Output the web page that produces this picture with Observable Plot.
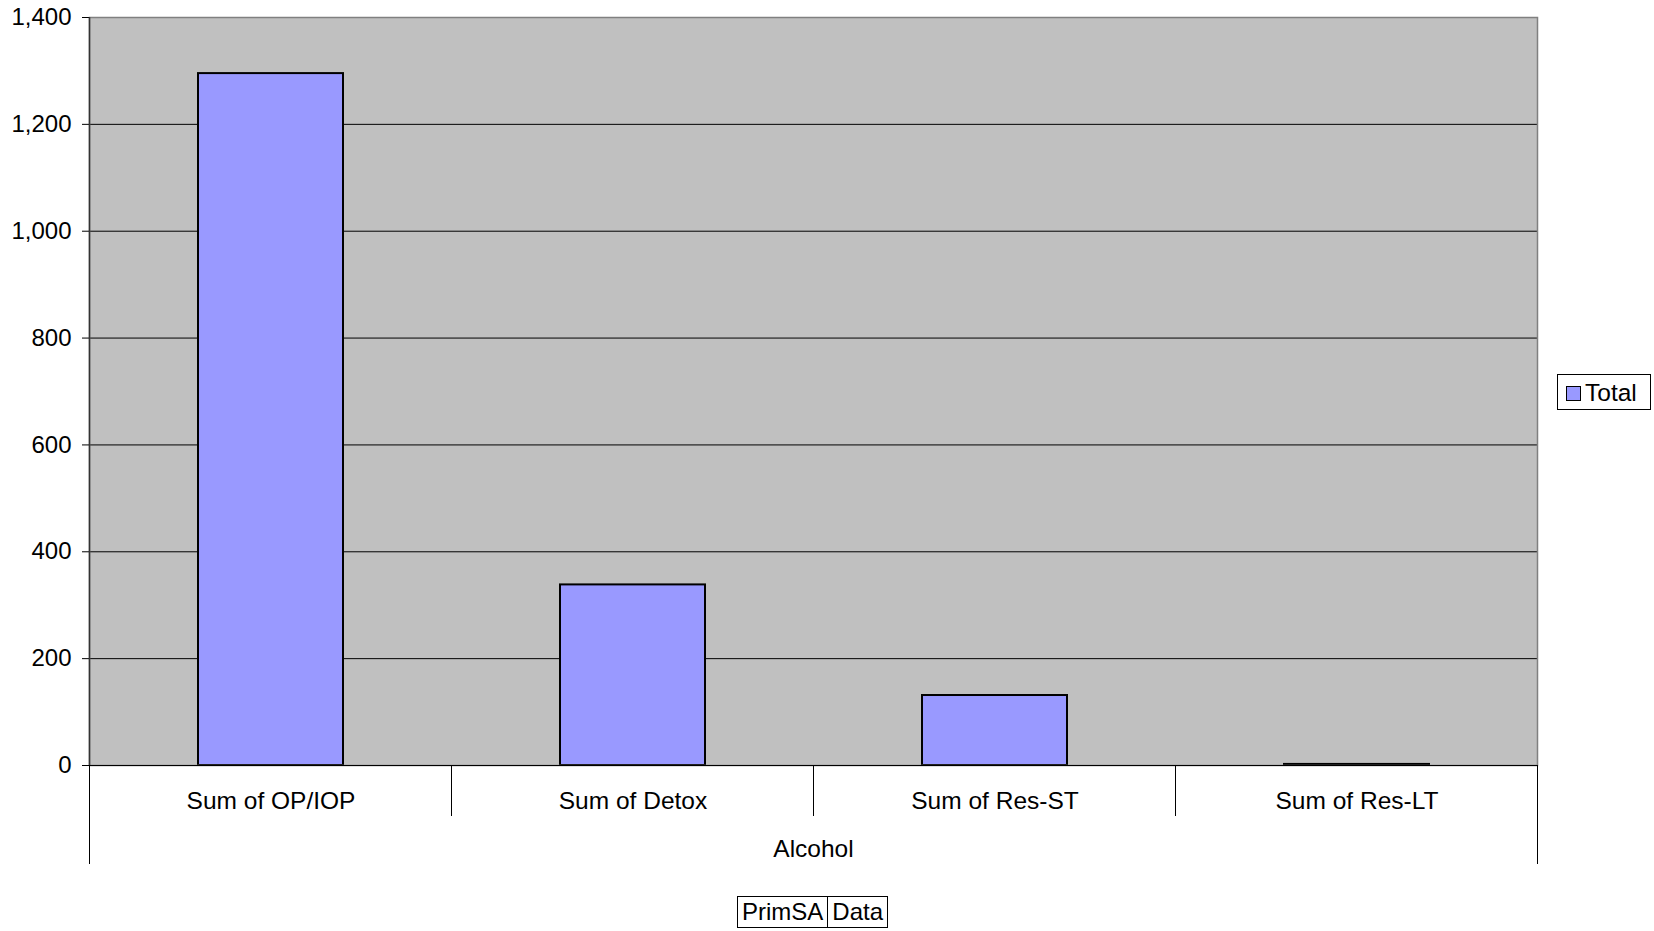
<!DOCTYPE html>
<html>
<head>
<meta charset="utf-8">
<script src="https://cdn.jsdelivr.net/npm/d3@7"></script>
<script src="https://cdn.jsdelivr.net/npm/@observablehq/plot@0.6"></script>
<style>
  html, body { margin: 0; padding: 0; background: #fff; }
  body { width: 1654px; height: 931px; position: relative; overflow: hidden;
         font-family: "Liberation Sans", Arial, sans-serif; }
  #chart { position: absolute; left: 0; top: 0; }
  .legend { position: absolute; left: 1557px; top: 374px; width: 94px; height: 36px;
            border: 1px solid #000; box-sizing: border-box; background: #fff;
            font-size: 24.5px; display: flex; align-items: center; padding-top: 2px; }
  .legend .sw { width: 15px; height: 15px; border: 1.5px solid #000; background: #9999ff;
                margin-left: 8px; margin-right: 4px; box-sizing: border-box; }
  .fieldbox { position: absolute; left: 737px; top: 896px; height: 32px; display: flex;
              font-size: 24px; }
  .fieldbox div { border: 1px solid #000; box-sizing: border-box; height: 32px;
                  line-height: 30px; padding: 0 4px; background: #fff; }
  .fieldbox div + div { border-left: none; }
</style>
</head>
<body>
<div id="chart"></div>
<div class="legend"><div class="sw"></div><span id="legendLabel"></span></div>
<div class="fieldbox"><div id="f1"></div><div id="f2"></div></div>
<script>
// ---- data ----
const categories = ["Sum of OP/IOP", "Sum of Detox", "Sum of Res-ST", "Sum of Res-LT"];
const totals = [1295, 338, 131, 2];
const yTicks = [0, 200, 400, 600, 800, 1000, 1200, 1400];
const groupLabel = "Alcohol";
const seriesName = "Total";
const fieldButtons = ["PrimSA", "Data"];

const data = categories.map((c, i) => ({cat: c, value: totals[i]}));

document.getElementById("legendLabel").textContent = seriesName;
document.getElementById("f1").textContent = fieldButtons[0];
document.getElementById("f2").textContent = fieldButtons[1];

const W = 1654, H = 931;
const mL = 89, mT = 17, mR = 117, mB = 166;

const plot = Plot.plot({
  width: W,
  height: H,
  marginLeft: mL,
  marginTop: mT,
  marginRight: mR,
  marginBottom: mB,
  style: {fontFamily: "'Liberation Sans', Arial, sans-serif", fontSize: "24px", background: "white", color: "black"},
  x: {domain: categories, paddingInner: 0.6, paddingOuter: 0.3, label: null},
  y: {domain: [0, 1400], label: null},
  marks: [
    Plot.frame({fill: "#c0c0c0", stroke: "none"}),
    Plot.gridY(yTicks.filter(d => d > 0 && d < 1400), {stroke: "black", strokeOpacity: 1, strokeWidth: 1}),
    Plot.barY(data, {x: "cat", y: "value", fill: "#9999ff", stroke: "black", strokeWidth: 2}),
    Plot.frame({stroke: "#808080", strokeWidth: 1.5}),
    Plot.ruleY([0], {stroke: "black", strokeWidth: 1}),
    Plot.axisY({ticks: yTicks, tickFormat: d3.format(","), tickSize: 7, tickPadding: 11,
                fontSize: 24, label: null, stroke: "black"}),
    Plot.axisX({tickSize: 0, tickPadding: 26, fontSize: 24.5, label: null}),
    Plot.text([groupLabel], {text: d => d, frameAnchor: "bottom", dy: 84, fontSize: 24.5, lineAnchor: "middle", fill: "black"})
  ]
});

document.getElementById("chart").appendChild(plot);

// category separators and left axis line, positioned from the plot's own x scale
const xs = plot.scale("x");
const ys = plot.scale("y");
const y0 = ys.apply(0);
const yTop = ys.apply(1400);
const gap = xs.step - xs.bandwidth;
const starts = categories.map(c => xs.apply(c) - gap / 2);
const bounds = [...starts, starts[starts.length - 1] + xs.step];
const svg = d3.select(plot);
const g = svg.append("g").attr("stroke", "black").attr("stroke-width", 1);
bounds.forEach((b, i) => {
  const outer = i === 0 || i === bounds.length - 1;
  g.append("line")
    .attr("x1", b).attr("x2", b)
    .attr("y1", y0).attr("y2", y0 + (outer ? 99 : 51));
});
// left axis line
g.append("line").attr("x1", bounds[0]).attr("x2", bounds[0])
  .attr("y1", yTop).attr("y2", y0).attr("stroke", "#333").attr("stroke-width", 1.5);
</script>
</body>
</html>
